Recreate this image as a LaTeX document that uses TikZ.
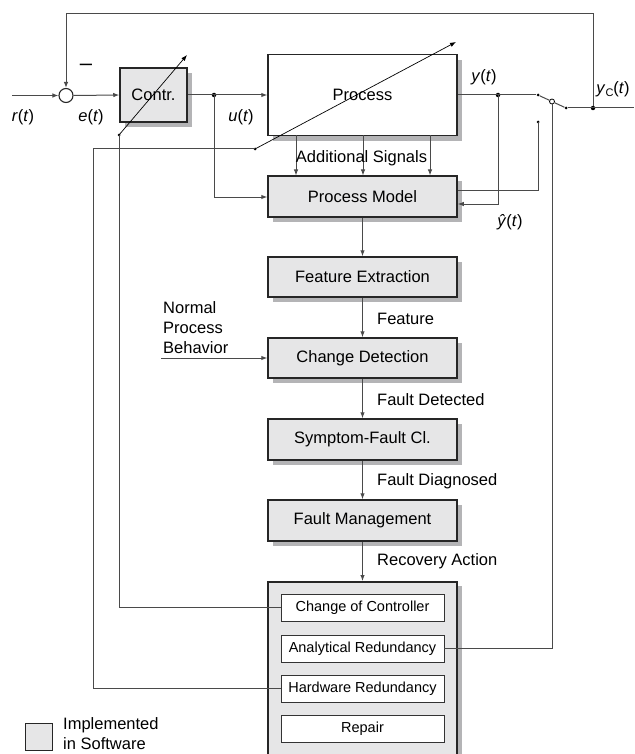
\documentclass[tikz,border=0pt]{standalone}
\usepackage{fontspec}
\setmainfont{Liberation Sans}
\usetikzlibrary{arrows.meta}
\definecolor{boxgray}{HTML}{E6E6E7}
\definecolor{shgray}{HTML}{B4B4B6}
\definecolor{linegray}{HTML}{4A4A4A}
\begin{document}
\begin{tikzpicture}[x=1pt,y=-1pt,
  font=\fontsize{16.5}{20}\selectfont,
  blk/.style={draw=black!85, line width=1.5pt, fill=boxgray, inner sep=0pt,
    minimum width=189pt, minimum height=41pt},
  inner/.style={draw=black!80, line width=0.9pt, fill=white, inner sep=0pt,
    minimum width=163pt, minimum height=27pt, font=\fontsize{14.5}{17}\selectfont},
  conn/.style={draw=linegray, line width=1pt},
  arr/.style={conn, -{Latex[length=6pt,width=4.5pt]}},
  dot/.style={circle, fill=black, inner sep=0pt, minimum size=4.5pt},
  sdot/.style={circle, fill=black, inner sep=0pt, minimum size=3pt},
  lbl/.style={inner sep=0pt},
  shadowbox/.style={fill=shgray, draw=none}
]
\useasboundingbox (0,0) rectangle (634,754);

% ---- shadows (drawn first, behind the blocks) ----
\fill[shadowbox] (125,73) rectangle (192,127);
\fill[shadowbox] (273,60) rectangle (462,141);
\fill[shadowbox] (273,181) rectangle (462,222);
\fill[shadowbox] (273,262) rectangle (462,302);
\fill[shadowbox] (273,343) rectangle (462,383);
\fill[shadowbox] (273,424) rectangle (462,465);
\fill[shadowbox] (273,505) rectangle (462,546);
\fill[shadowbox] (273,586) rectangle (462,790);

% ---- blocks ----
\node[blk, minimum width=67pt, minimum height=54pt] (contr) at (153.5,95) {Contr.};
\node[blk, fill=white, minimum height=81pt] (process) at (362.5,95) {Process};
\node[blk] (pm) at (362.5,196.5) {Process Model};
\node[blk, minimum height=40pt] (fe) at (362.5,277) {Feature Extraction};
\node[blk, minimum height=40pt] (cd) at (362.5,358) {Change Detection};
\node[blk] (sf) at (362.5,439.5) {Symptom-Fault Cl.};
\node[blk] (fm) at (362.5,520.5) {Fault Management};
\node[blk, minimum height=200pt, anchor=north] (big) at (362.5,581) {};

\node[inner] (coc) at (362.5,607.5) {Change of Controller};
\node[inner] (ar) at (362.5,648.5) {Analytical Redundancy};
\node[inner] (hr) at (362.5,688.5) {Hardware Redundancy};
\node[inner] (rep) at (362.5,728.5) {Repair};

% ---- summing point ----
\node[circle, draw=black!85, line width=1.1pt, fill=white, minimum size=14pt, inner sep=0pt] (sum) at (66,95.5) {};

% ---- coordinates ----
\coordinate (rin) at (12,95.5);
\node[dot] (ju) at (214,95) {};
\node[dot] (jy) at (498,95) {};
\node[sdot] (sw1) at (538,95) {};
\node[sdot] (sw2) at (538,122) {};
\node[sdot] (sw3) at (566,108) {};
\node[dot] (jyc) at (593,108) {};
\coordinate (out) at (634,108);
\node[circle, draw=black, fill=white, line width=0.8pt, inner sep=0pt, minimum size=5pt] (piv) at (552,101.5) {};
\node[sdot] (dc) at (119,135) {};
\node[sdot] (dp) at (255,149) {};
\coordinate (tc) at (187,55);
\coordinate (tp) at (456,42);
\coordinate (nb) at (161,358);

% ---- main loop ----
\draw[arr] (rin) -- (sum.west);
\draw[arr] (sum.east) -- (contr.west);
\draw[arr] (contr.east) -- (process.west);
\draw[conn] (process.east) -- (sw1);
\draw[conn] (sw1) -- (piv) -- (sw3);
\draw[conn] (sw3) -- (out);
\draw[arr] (jyc) |- (66,14) -- (sum.north);

% ---- to process model ----
\draw[arr] (ju.center) |- ([yshift=-0.5pt]pm.west);
\draw[arr] (jy.center) |- ([yshift=-7.5pt]pm.east);
\draw[conn] (sw2.center) |- ([yshift=6.5pt]pm.east);
\foreach \xx in {296,363,430}
  \draw[arr] (\xx,135.5) -- (\xx,175.5);
\node[lbl] (addsig) at (361.5,158) {Additional Signals};

% ---- diagnosis chain ----
\draw[arr] (pm.south) -- (fe.north);
\draw[arr] (fe.south) -- (cd.north);
\draw[arr] (cd.south) -- (sf.north);
\draw[arr] (sf.south) -- (fm.north);
\draw[arr] (fm.south) -- (big.north);
\draw[arr] (nb) -- (cd.west);

% ---- reconfiguration lines ----
\draw[conn] (coc.west) -| (dc.center);
\draw[conn] (hr.west) -| (93,149) -- (dp.center);
\draw[conn] (ar.east) -| (piv.south);

% ---- adjustable arrows ----
\draw[line width=0.7pt, -{Latex[length=6pt,width=4.5pt]}] (dc.center) -- (tc);
\draw[line width=0.7pt, -{Latex[length=6pt,width=4.5pt]}] (dp.center) -- (tp);

% ---- labels ----
\node[lbl] (lr) at (23,117) {\textit{r}(\textit{t})};
\node[lbl] (le) at (91,117) {\textit{e}(\textit{t})};
\node[lbl, font=\fontsize{22}{22}\selectfont] (lminus) at (86,67) {–};
\node[lbl] (lu) at (241,117) {\textit{u}(\textit{t})};
\node[lbl] (ly) at (484,77) {\textit{y}(\textit{t})};
\node[lbl] (lyc) at (613,89) {\textit{y}\raisebox{-0.35ex}{\fontsize{11}{11}\selectfont C}(\textit{t})};
\node[lbl] (lyh) at (510,222) {\textit{ŷ}(\textit{t})};
\node[lbl, anchor=west] (lfeat) at (377,319) {Feature};
\node[lbl, anchor=west] (lfd) at (377,400) {Fault Detected};
\node[lbl, anchor=west] (lfdg) at (377,481) {Fault Diagnosed};
\node[lbl, anchor=west] (lra) at (377,561) {Recovery Action};
\node[lbl, anchor=west, align=left] (lnpb) at (163,328) {Normal\\Process\\Behavior};

% ---- legend ----
\node[draw=black!85, line width=0.9pt, fill=boxgray, minimum width=27pt, minimum height=27pt, inner sep=0pt] (leg) at (38.5,736.5) {};
\node[lbl, anchor=west, align=left] (legt) at (63,734) {Implemented\\in Software};
\end{tikzpicture}
\end{document}
